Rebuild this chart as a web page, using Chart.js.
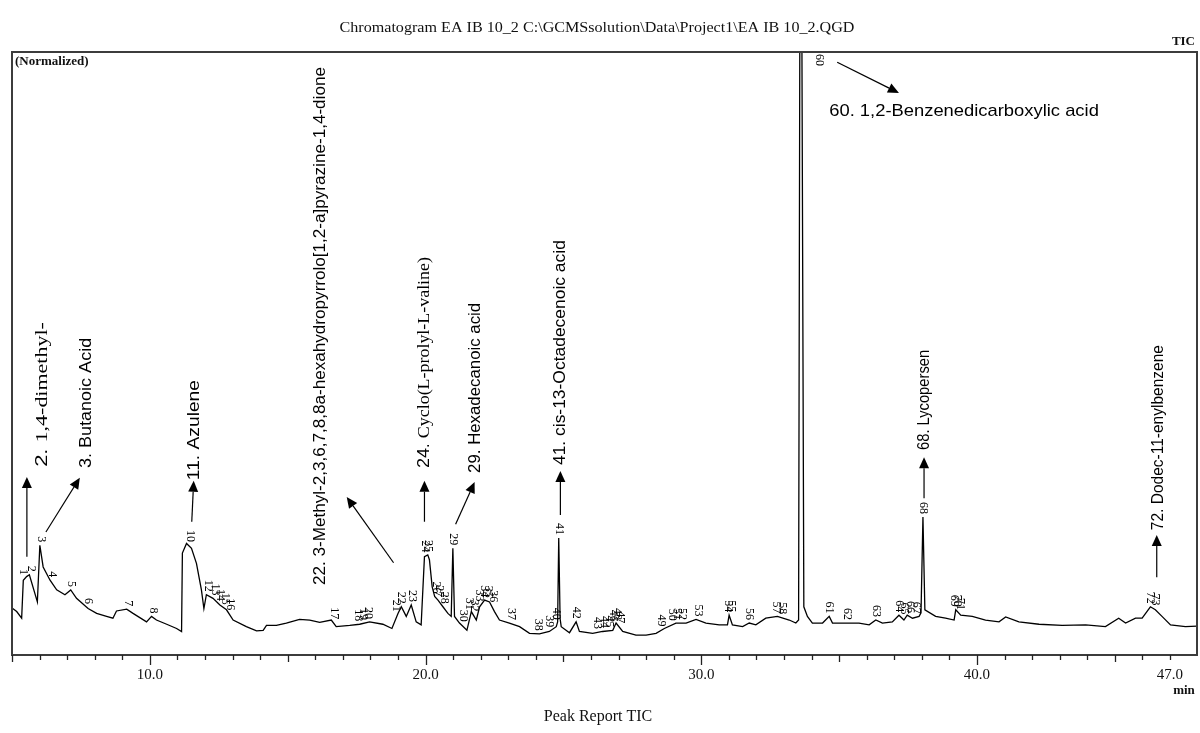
<!DOCTYPE html>
<html>
<head>
<meta charset="utf-8">
<script src="https://cdn.jsdelivr.net/npm/chart.js@4.4.1/dist/chart.umd.min.js"></script>
<style>
  html, body { margin: 0; padding: 0; background: #fff; }
  #wrap { width: 1200px; height: 733px; position: relative; }
</style>
</head>
<body>
<div id="wrap"><canvas id="tic"></canvas></div>
<script>
// TIC trace: retention time (min) and normalized intensity
const rt = [
  5.00, 5.17, 5.35, 5.41, 5.53, 5.63, 5.92, 6.01, 6.13, 6.38, 6.62, 6.92, 7.13, 7.34, 7.76, 8.07,
  8.43, 8.66, 8.79, 9.16, 9.39, 9.88, 10.06, 10.24, 10.61, 10.97, 11.15, 11.18, 11.33, 11.51, 11.69, 11.87,
  11.96, 12.05, 12.29, 12.54, 12.78, 13.02, 13.50, 13.87, 14.11, 14.23, 14.59, 14.95, 15.43, 15.80, 16.16, 16.58,
  16.76, 17.25, 17.61, 17.97, 18.45, 18.78, 19.00, 19.12, 19.30, 19.48, 19.66, 19.84, 19.96, 20.08, 20.14, 20.24,
  20.33, 20.45, 20.63, 20.81, 20.93, 20.99, 21.05, 21.23, 21.50, 21.66, 21.84, 21.96, 22.14, 22.32, 22.50, 22.68,
  23.04, 23.41, 23.77, 24.13, 24.49, 24.74, 24.79, 24.83, 24.88, 24.92, 25.22, 25.46, 25.58, 26.06, 26.42, 26.79,
  26.91, 27.15, 27.63, 28.00, 28.36, 28.66, 29.08, 29.45, 29.81, 30.17, 30.65, 30.95, 31.01, 31.13, 31.50, 31.74,
  31.98, 32.34, 32.76, 33.19, 33.43, 33.53, 33.58, 33.64, 33.72, 33.85, 34.03, 34.40, 34.64, 34.76, 35.24, 35.72,
  36.09, 36.33, 36.57, 36.93, 37.17, 37.35, 37.47, 37.66, 37.90, 37.97, 38.04, 38.11, 38.50, 38.86, 39.17, 39.23,
  39.41, 39.83, 40.31, 40.80, 41.04, 41.52, 42.25, 43.09, 43.94, 44.66, 45.14, 45.39, 45.75, 45.99, 46.29, 46.47,
  46.71, 47.02, 47.56, 47.98
];
const intensity = [
  7.8, 7.2, 6.1, 12.4, 13.0, 13.3, 8.8, 18.2, 14.6, 12.4, 10.8, 10.0, 10.8, 9.4, 7.7, 6.9,
  6.4, 6.1, 7.3, 7.6, 6.9, 5.5, 6.4, 5.8, 5.1, 4.4, 3.9, 16.9, 18.5, 17.7, 15.2, 10.8,
  7.7, 10.0, 9.4, 8.3, 7.5, 5.8, 4.7, 4.0, 4.1, 4.9, 4.9, 5.3, 5.9, 5.8, 5.4, 5.8,
  4.7, 4.9, 5.1, 5.5, 5.1, 4.4, 6.9, 8.0, 6.4, 8.3, 5.5, 5.0, 16.3, 16.6, 15.8, 11.3,
  9.7, 9.1, 8.0, 6.9, 6.4, 17.7, 6.4, 5.3, 4.1, 7.2, 5.8, 8.0, 9.1, 8.8, 7.2, 5.8,
  5.3, 4.7, 3.6, 3.5, 3.9, 4.7, 5.5, 19.4, 6.0, 4.7, 3.7, 5.5, 3.9, 3.6, 3.9, 4.1,
  5.3, 3.9, 3.3, 3.3, 3.6, 4.4, 5.3, 5.3, 5.9, 5.3, 5.0, 5.0, 6.6, 5.0, 4.7, 5.3,
  5.0, 6.1, 6.4, 5.8, 5.3, 5.8, 115, 115, 8.0, 6.4, 5.3, 5.3, 6.4, 5.3, 5.3, 5.3,
  5.0, 5.8, 5.3, 5.5, 6.6, 5.8, 6.6, 6.1, 6.4, 7.0, 22.9, 7.5, 6.4, 6.1, 5.8, 7.5,
  6.6, 6.4, 5.8, 5.5, 6.3, 5.5, 5.1, 4.9, 5.0, 4.7, 6.1, 5.3, 6.1, 6.1, 8.0, 7.5,
  6.4, 5.0, 4.7, 4.8
];

// peak numbers and their retention times
const peakNo = [1, 2, 3, 4, 5, 6, 7, 8, 10, 12, 13, 14, 15, 16, 17, 18, 19, 20, 21, 22, 23, 24, 25,
  26, 27, 28, 29, 30, 31, 32, 33, 34, 35, 36, 37, 38, 39, 40, 41, 42, 43, 44, 45, 46, 48, 47,
  49, 50, 51, 52, 53, 54, 55, 56, 57, 58, 60, 61, 62, 63, 64, 65, 66, 67, 68, 69, 70, 71, 72, 73];
const peakRt = [5.42, 5.69, 6.06, 6.44, 7.16, 7.76, 9.21, 10.12, 11.45, 12.11, 12.36, 12.56, 12.74, 12.92,
  16.70, 17.54, 17.72, 17.90, 18.92, 19.10, 19.50, 19.98, 20.10, 20.39, 20.51, 20.69, 21.00, 21.35, 21.59,
  21.78, 21.96, 22.14, 22.27, 22.44, 23.10, 24.07, 24.49, 24.72, 24.84, 25.46, 26.24, 26.49, 26.67, 26.82,
  26.94, 27.06, 28.54, 28.96, 29.14, 29.32, 29.87, 30.99, 31.07, 31.74, 32.72, 32.92, 33.61, 34.64, 35.30,
  36.33, 37.17, 37.35, 37.58, 37.78, 38.04, 39.17, 39.28, 39.40, 46.29, 46.45];

// x axis labels (min)
const labelledTicks = [10, 20, 30, 40, 47];

// identified compounds
const compoundNames = [
  [['2. ', 'sans'], ['1,4-dimethyl-', 'serif']],
  [['3. Butanoic Acid', 'sans']],
  [['11. Azulene', 'sans']],
  [['22. 3-Methyl-2,3,6,7,8,8a-hexahydropyrrolo[1,2-a]pyrazine-1,4-dione', 'sans']],
  [['24. ', 'sans'], ['Cyclo(L-prolyl-L-valine)', 'serif']],
  [['29. Hexadecanoic acid', 'sans']],
  [['41. cis-13-Octadecenoic acid', 'sans']],
  [['60. 1,2-Benzenedicarboxylic acid', 'sans']],
  [['68. Lycopersen', 'sans']],
  [['72. Dodec-11-enylbenzene', 'sans']]
];

// where each callout sits, in axis units: text column (x, from..to) and arrow tail -> tip
const calloutLayout = [
  { x: 6.09, from: 31.2, to: 55.2, arrow: [5.54, 16.3, 5.54, 29.5] },
  { x: 7.68, from: 31.0, to: 52.6, arrow: [6.23, 20.4, 7.46, 29.4] },
  { x: 11.63, from: 29.0, to: 45.6, arrow: [11.52, 22.1, 11.59, 28.9] },
  { x: 16.20, from: 11.6, to: 97.5, arrow: [18.84, 15.3, 17.14, 26.2] },
  { x: 19.96, from: 31.0, to: 66.0, arrow: [19.96, 22.1, 19.96, 28.9] },
  { x: 21.81, from: 30.2, to: 58.4, arrow: [21.09, 21.7, 21.78, 28.7] },
  { x: 24.89, from: 31.5, to: 68.8, arrow: [24.89, 23.2, 24.89, 30.5] },
  { y: 90.2, left: 34.64, right: 44.42, arrow: [34.93, 98.3, 37.17, 93.2] },
  { x: 38.08, from: 34.0, to: 50.6, arrow: [38.08, 26.0, 38.08, 32.8] },
  { x: 46.59, from: 20.7, to: 51.4, arrow: [46.52, 12.9, 46.52, 19.9] }
];

const FAMILY = { sans: '"Liberation Sans", Arial, sans-serif', serif: '"Liberation Serif", "Times New Roman", serif' };

function traceAt(t) {
  for (let i = 1; i < rt.length; i++) {
    if (rt[i] >= t) {
      const f = (t - rt[i - 1]) / (rt[i] - rt[i - 1]);
      return intensity[i - 1] + f * (intensity[i] - intensity[i - 1]);
    }
  }
  return intensity[intensity.length - 1];
}
function localMax(t) {
  let m = -Infinity;
  for (let d = -0.06; d <= 0.0601; d += 0.01) m = Math.max(m, traceAt(t + d));
  rt.forEach((r, i) => { if (Math.abs(r - t) <= 0.06) m = Math.max(m, intensity[i]); });
  return m;
}

function drawArrow(ctx, x0, y0, x1, y1) {
  const ang = Math.atan2(y1 - y0, x1 - x0);
  const hl = 11, hw = 5;
  const bx = x1 - hl * Math.cos(ang), by = y1 - hl * Math.sin(ang);
  ctx.beginPath();
  ctx.moveTo(x0, y0);
  ctx.lineTo(bx, by);
  ctx.stroke();
  ctx.beginPath();
  ctx.moveTo(x1, y1);
  ctx.lineTo(bx + hw * Math.sin(ang), by - hw * Math.cos(ang));
  ctx.lineTo(bx - hw * Math.sin(ang), by + hw * Math.cos(ang));
  ctx.closePath();
  ctx.fill();
}

function drawParts(ctx, parts, size, length) {
  let total = 0;
  parts.forEach(p => { ctx.font = size + 'px ' + FAMILY[p[1]]; total += ctx.measureText(p[0]).width; });
  ctx.scale(length / total, 1);
  let pos = 0;
  parts.forEach(p => {
    ctx.font = size + 'px ' + FAMILY[p[1]];
    ctx.fillText(p[0], pos, 0);
    pos += ctx.measureText(p[0]).width;
  });
}

function fitText(ctx, txt, x, y, width, align) {
  const w = ctx.measureText(txt).width;
  ctx.save();
  ctx.translate(x, y);
  ctx.scale(width / w, 1);
  ctx.textAlign = align;
  ctx.fillText(txt, 0, 0);
  ctx.restore();
}

const decor = {
  id: 'decor',
  afterDraw(chart) {
    const { ctx, chartArea: a, scales: { x, y } } = chart;
    ctx.save();

    // frame
    ctx.strokeStyle = '#3c3c3c';
    ctx.lineWidth = 2;
    ctx.strokeRect(a.left, a.top, a.right - a.left, a.bottom - a.top);

    // tick marks, longer every 5 and 10 min
    ctx.lineWidth = 1.3;
    ctx.strokeStyle = '#222';
    x.ticks.forEach(tk => {
      const v = tk.value;
      const len = v % 10 === 0 ? 10 : (v % 5 === 0 ? 7 : 5);
      const px = Math.round(x.getPixelForValue(v)) + 0.5;
      ctx.beginPath();
      ctx.moveTo(px, a.bottom);
      ctx.lineTo(px, a.bottom + len);
      ctx.stroke();
    });

    // header / footer texts
    ctx.fillStyle = '#111';
    ctx.textBaseline = 'middle';
    ctx.font = '14px ' + FAMILY.serif;
    fitText(ctx, 'Chromatogram EA IB 10_2 C:\\GCMSsolution\\Data\\Project1\\EA IB 10_2.QGD', 597, 28, 515, 'center');
    ctx.font = 'bold 13px ' + FAMILY.serif;
    ctx.textAlign = 'right';
    ctx.fillText('TIC', a.right - 2, 42);
    ctx.textAlign = 'left';
    ctx.fillText('(Normalized)', a.left + 3, a.top + 10);
    ctx.textAlign = 'center';
    ctx.fillText('min', 1184, 691);
    ctx.font = '16px ' + FAMILY.serif;
    ctx.fillText('Peak Report TIC', 598, 717);

    // peak numbers
    ctx.font = '12px ' + FAMILY.serif;
    ctx.fillStyle = '#000';
    peakNo.forEach((n, i) => {
      const t = peakRt[i];
      const m = localMax(t);
      let px = x.getPixelForValue(t), py;
      ctx.save();
      if (m > y.max) {
        px += 18;
        py = a.top + 2;
        ctx.translate(px, py);
        ctx.rotate(Math.PI / 2);
        ctx.textAlign = 'left';
      } else {
        py = y.getPixelForValue(m) - 3;
        ctx.translate(px, py);
        ctx.rotate(Math.PI / 2);
        ctx.textAlign = 'right';
      }
      ctx.textBaseline = 'middle';
      ctx.fillText(String(n), 0, 0);
      ctx.restore();
    });

    // compound callouts
    ctx.fillStyle = '#000';
    ctx.strokeStyle = '#000';
    ctx.lineWidth = 1.2;
    calloutLayout.forEach((c, i) => {
      const ar = c.arrow;
      drawArrow(ctx, x.getPixelForValue(ar[0]), y.getPixelForValue(ar[1]),
        x.getPixelForValue(ar[2]), y.getPixelForValue(ar[3]));
      ctx.save();
      ctx.textBaseline = 'middle';
      ctx.textAlign = 'left';
      if (c.x !== undefined) {
        const y0 = y.getPixelForValue(c.from), y1 = y.getPixelForValue(c.to);
        ctx.translate(x.getPixelForValue(c.x), y0);
        ctx.rotate(-Math.PI / 2);
        drawParts(ctx, compoundNames[i], 17, y0 - y1);
      } else {
        const x0 = x.getPixelForValue(c.left), x1 = x.getPixelForValue(c.right);
        ctx.translate(x0, y.getPixelForValue(c.y));
        drawParts(ctx, compoundNames[i], 17, x1 - x0);
      }
      ctx.restore();
    });

    ctx.restore();
  }
};

const points = rt.map((t, i) => ({ x: t, y: intensity[i] }));

new Chart(document.getElementById('tic'), {
  type: 'line',
  data: {
    datasets: [{
      data: points,
      borderColor: '#000',
      borderWidth: 1.3,
      pointRadius: 0,
      tension: 0,
      fill: false,
      clip: 0
    }]
  },
  options: {
    responsive: true,
    maintainAspectRatio: false,
    animation: false,
    layout: { padding: { left: 12, right: 3, top: 52, bottom: 33 } },
    plugins: { legend: { display: false }, tooltip: { enabled: false }, title: { display: false } },
    scales: {
      x: {
        type: 'linear',
        min: 5,
        max: 47.98,
        grid: { display: false },
        border: { display: false },
        afterFit: s => { s.height = 45; },
        ticks: {
          stepSize: 1,
          includeBounds: false,
          autoSkip: false,
          maxRotation: 0,
          padding: 3,
          color: '#111',
          font: { family: FAMILY.serif, size: 15 },
          callback: v => labelledTicks.includes(v) ? v.toFixed(1) : ''
        }
      },
      y: { display: false, min: 0, max: 100 }
    }
  },
  plugins: [decor]
});
</script>
</body>
</html>
